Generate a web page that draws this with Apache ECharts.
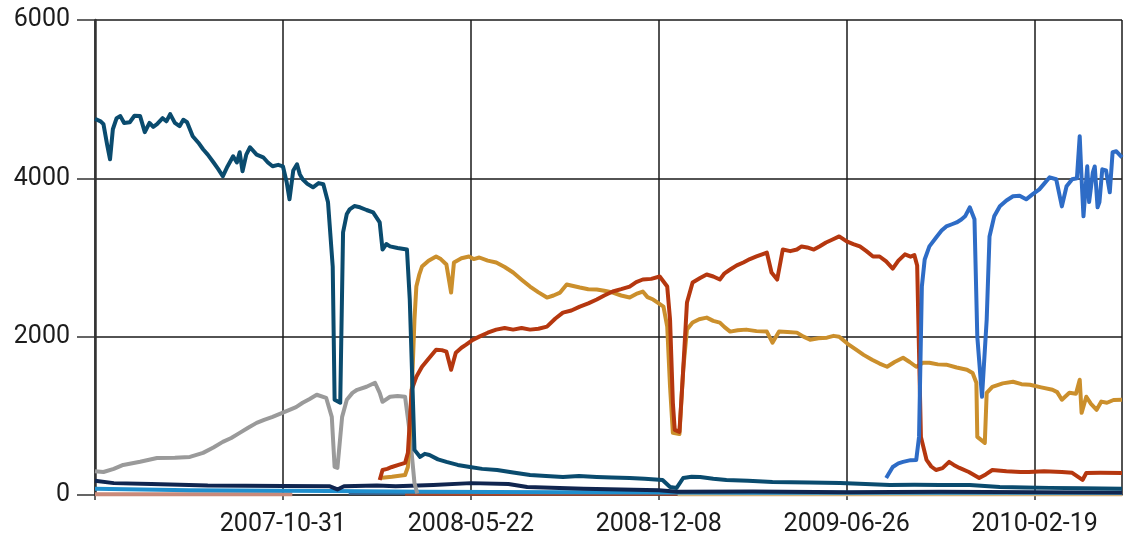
<!DOCTYPE html>
<html>
<head>
<meta charset="utf-8">
<script src="https://cdn.jsdelivr.net/npm/echarts@6/dist/echarts.min.js"></script>
<style>
html,body{margin:0;padding:0;background:#fff;}
#chart{width:1128px;height:537px;}
</style>
</head>
<body>
<div id="chart"></div>
<script>
// x = day index along the time axis; tick labels every 200 index units
const tickLabels = ['', '2007-10-31', '2008-05-22', '2008-12-08', '2009-06-26', '2010-02-19'];
const xMax = 1093;

const tealPts = [[0,4750],[2,4773],[6,4720],[9,4684],[13,4420],[16,4241],[19,4620],[23,4760],[27,4786],[31,4700],[37,4709],[42,4790],[48,4786],[53,4583],[58,4700],[62,4650],[66,4684],[72,4760],[76,4720],[80,4811],[85,4700],[90,4659],[94,4740],[98,4709],[104,4532],[110,4450],[115,4367],[120,4300],[126,4203],[131,4120],[136,4026],[141,4150],[147,4279],[151,4200],[154,4330],[157,4089],[161,4300],[165,4393],[172,4300],[179,4266],[184,4200],[189,4152],[195,4170],[200,4152],[204,3950],[207,3735],[211,4100],[215,4178],[218,4050],[221,3988],[226,3930],[232,3887],[238,3940],[243,3925],[248,3697],[253,2886],[255,1203],[261,1165],[264,3317],[268,3550],[271,3608],[276,3650],[282,3634],[289,3600],[296,3570],[303,3443],[306,3101],[310,3170],[314,3140],[322,3120],[332,3101],[335,2468],[340,570],[346,481],[351,520],[356,506],[365,450],[374,418],[386,380],[399,354],[412,330],[428,316],[445,285],[463,253],[480,240],[498,228],[515,240],[534,228],[550,220],[569,215],[585,205],[604,190],[612,101],[619,89],[626,215],[635,230],[644,228],[658,205],[672,190],[695,180],[721,165],[760,158],[793,152],[820,140],[846,127],[872,130],[899,127],[931,127],[963,100],[990,95],[1016,90],[1050,85],[1093,80]];

const grayPts = [[0,300],[2,316],[9,291],[20,330],[30,380],[48,420],[66,468],[85,470],[101,481],[115,532],[126,600],[136,671],[145,720],[154,785],[163,850],[172,911],[180,950],[189,987],[198,1030],[207,1076],[214,1110],[221,1165],[228,1210],[236,1266],[246,1228],[252,987],[255,354],[258,342],[263,987],[268,1203],[274,1290],[279,1329],[289,1367],[298,1418],[303,1291],[306,1177],[314,1241],[322,1250],[330,1241],[335,785],[340,152],[343,20]];

const redPts = [[303,190],[306,316],[311,330],[316,354],[323,380],[330,405],[333,532],[337,1329],[342,1494],[348,1620],[355,1720],[363,1835],[369,1830],[374,1810],[379,1582],[384,1798],[390,1860],[395,1899],[402,1960],[409,2000],[418,2050],[427,2089],[436,2110],[445,2089],[454,2110],[463,2089],[472,2100],[481,2127],[490,2230],[498,2304],[507,2330],[516,2380],[525,2420],[534,2469],[542,2520],[551,2570],[560,2600],[569,2633],[576,2690],[583,2722],[592,2730],[601,2760],[609,2633],[612,2216],[615,1165],[617,823],[622,798],[626,1582],[630,2431],[636,2684],[644,2740],[651,2785],[658,2760],[665,2722],[670,2800],[676,2848],[683,2900],[690,2937],[697,2980],[704,3013],[710,3040],[715,3063],[720,2810],[726,2722],[732,3101],[740,3080],[747,3101],[752,3140],[758,3127],[765,3100],[771,3140],[778,3190],[785,3228],[792,3266],[800,3203],[807,3170],[814,3140],[821,3080],[828,3013],[835,3013],[842,2950],[849,2860],[855,2960],[862,3040],[868,3010],[872,3030],[875,2900],[877,1798],[879,734],[885,443],[890,360],[895,316],[902,340],[909,418],[914,380],[920,342],[930,290],[941,215],[948,260],[955,316],[970,300],[985,290],[994,291],[1010,300],[1029,291],[1040,280],[1051,190],[1055,278],[1070,280],[1093,278]];

const goldPts = [[303,215],[316,230],[330,253],[333,354],[336,950],[340,2216],[342,2633],[345,2780],[348,2886],[355,2960],[363,3013],[368,2980],[374,2911],[379,2557],[382,2937],[390,2990],[398,3013],[403,2980],[409,3000],[418,2960],[427,2937],[436,2880],[445,2810],[454,2720],[463,2633],[472,2560],[481,2494],[488,2520],[495,2557],[502,2659],[509,2640],[516,2621],[525,2600],[534,2595],[542,2580],[551,2557],[560,2520],[569,2494],[576,2540],[583,2570],[588,2500],[594,2469],[600,2420],[605,2380],[609,2127],[612,1367],[615,785],[622,770],[626,1582],[630,2089],[636,2178],[643,2220],[651,2241],[658,2200],[665,2178],[670,2120],[676,2064],[684,2080],[693,2089],[704,2070],[715,2064],[721,1924],[728,2064],[737,2060],[747,2051],[754,2000],[761,1962],[770,1980],[779,1987],[786,2010],[792,2000],[801,1910],[810,1836],[818,1770],[827,1709],[835,1660],[843,1620],[851,1680],[860,1734],[867,1680],[874,1620],[881,1670],[888,1671],[897,1650],[906,1646],[917,1610],[928,1582],[934,1540],[938,1418],[939,734],[947,658],[949,1291],[955,1367],[966,1410],[977,1430],[986,1400],[995,1392],[1007,1360],[1019,1329],[1024,1300],[1029,1203],[1037,1291],[1044,1280],[1048,1456],[1050,1038],[1055,1241],[1060,1150],[1066,1076],[1071,1180],[1077,1165],[1084,1200],[1093,1203]];

const bluePts = [[842,215],[849,354],[855,400],[860,418],[868,440],[874,443],[877,734],[880,2633],[883,2975],[888,3140],[896,3266],[901,3340],[906,3393],[912,3420],[917,3443],[922,3480],[926,3520],[931,3634],[936,3482],[939,2000],[944,1241],[949,2216],[952,3266],[957,3520],[963,3646],[970,3720],[977,3773],[984,3780],[991,3735],[998,3800],[1005,3861],[1010,3930],[1016,4013],[1023,3988],[1029,3646],[1034,3899],[1040,3988],[1045,4000],[1048,4532],[1050,3988],[1052,3520],[1056,4152],[1058,3700],[1062,4076],[1064,4150],[1067,3634],[1069,3700],[1072,4114],[1076,4100],[1080,3823],[1083,4330],[1087,4342],[1093,4266]];

const navyPts = [[0,180],[20,150],[60,140],[120,120],[200,115],[250,110],[258,70],[265,110],[300,120],[320,110],[360,125],[400,150],[440,140],[460,100],[520,80],[600,60],[620,40],[700,45],[800,35],[900,40],[1093,30]];
const lightBluePts = [[0,80],[100,60],[250,50],[350,40],[500,35],[700,30],[900,30],[1093,30]];
const salmonPts = [[0,10],[210,10]];
const rustPts = [[330,15],[620,15]];
const slatePts = [[270,25],[330,25]];
const tanPts = [[620,8],[1093,8]];

const line = (name, color, data, w) => ({
  name, type: 'line', data, showSymbol: false, symbol: 'none',
  lineStyle: { color, width: w || 4, join: 'round' }, itemStyle: { color }, z: 2
});

const chart = echarts.init(document.getElementById('chart'));
chart.setOption({
  animation: false,
  grid: { left: 95, right: 6, top: 20, bottom: 42 },
  xAxis: {
    type: 'value', min: 0, max: xMax, interval: 200,
    axisLine: { show: true, onZero: false, lineStyle: { color: '#333', width: 1.5 } },
    axisTick: { show: true, length: 5, lineStyle: { color: '#333', width: 1.5 } },
    splitLine: { show: true, lineStyle: { color: '#1a1a1a', width: 1.5 } },
    axisLabel: {
      showMaxLabel: false, margin: 17, color: '#1c1c1c',
      fontFamily: 'Roboto', fontSize: 25,
      formatter: v => tickLabels[Math.round(v / 200)] || ''
    }
  },
  yAxis: {
    type: 'value', min: 0, max: 6000, interval: 2000,
    axisLine: { show: true, lineStyle: { color: '#333', width: 2.5 } },
    axisTick: { show: true, length: 18, lineStyle: { color: '#333', width: 1.5 } },
    splitLine: { show: true, lineStyle: { color: '#1a1a1a', width: 1.5 } },
    axisLabel: { margin: 25, color: '#1c1c1c', fontFamily: 'Roboto', fontSize: 25, formatter: v => String(v) }
  },
  series: [
    line('s8', '#c98a7a', salmonPts, 4),
    line('s9', '#a8482c', rustPts, 4),
    line('s10', '#3d5f86', slatePts, 4),
    line('s11', '#d4b078', tanPts, 4),
    line('s7', '#1f8fce', lightBluePts, 4),
    line('s6', '#10254f', navyPts, 4),
    line('s2', '#9a9a9a', grayPts),
    line('s4', '#cb8f2c', goldPts),
    line('s3', '#b5370f', redPts),
    line('s5', '#2e6cc6', bluePts),
    line('s1', '#0a4b6e', tealPts)
  ]
});
</script>
</body>
</html>
